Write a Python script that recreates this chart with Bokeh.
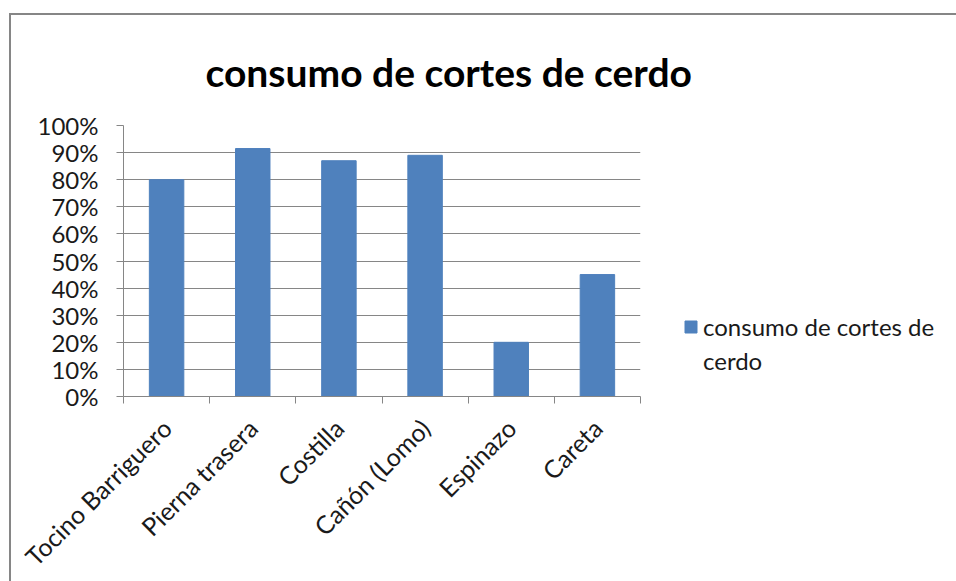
import math
from bokeh.plotting import figure
from bokeh.models import (ColumnDataSource, FixedTicker, Range1d, Legend, LegendItem,
                          NumeralTickFormatter)
from bokeh.embed import file_html
from bokeh.resources import INLINE

categories = ["Tocino Barriguero", "Pierna trasera", "Costilla", "Cañón (Lomo)", "Espinazo", "Careta"]
values = [0.80, 0.915, 0.87, 0.89, 0.20, 0.45]
series_label_lines = ["consumo de cortes de", "cerdo"]
title_text = "consumo de cortes de cerdo"
y_ticks = [0, 0.1, 0.2, 0.3, 0.4, 0.5, 0.6, 0.7, 0.8, 0.9, 1.0]

FONT = "Lato"
BAR = "#4F81BD"
GRID = "#868686"
TXT = "#1a1a1a"

# canvas origin inside the page (after margin + 2px border)
OX, OY = 11, 15

xs = [i + 0.5 for i in range(len(categories))]
src = ColumnDataSource(dict(x=xs, top=values, cat=categories))

p = figure(frame_width=517, frame_height=271, output_backend="svg", toolbar_location=None,
           x_range=Range1d(0, len(categories)), y_range=Range1d(0, 1.0),
           min_border_left=123 - OX, min_border_right=0, min_border_top=125 - OY,
           min_border_bottom=185 - 20)
p.margin = (OY - 2, 0, 0, OX - 2)
p.styles = {"border-top": "2px solid #868686", "border-left": "2px solid #868686",
            "box-sizing": "content-box"}
p.outline_line_color = None
p.background_fill_color = "white"
p.border_fill_color = "white"

r = p.vbar(x="x", top="top", width=0.4, bottom=0, source=src, fill_color=BAR, line_color=BAR)
r_blank = p.vbar(x=[], top=[], width=0.4, fill_alpha=0, line_alpha=0)

# title
p.title.text = title_text
p.title.text_font = FONT
p.title.text_font_style = "bold"
p.title.text_font_size = "39px"
p.title.text_color = "black"
p.title.align = "left"
p.title.offset = 82
p.title.standoff = 62

# y axis
p.yaxis.ticker = FixedTicker(ticks=y_ticks)
p.yaxis.formatter = NumeralTickFormatter(format="0%")
p.yaxis.axis_line_color = GRID
p.yaxis.major_tick_line_color = GRID
p.yaxis.major_tick_out = 7
p.yaxis.major_tick_in = 0
p.yaxis.minor_tick_line_color = None
p.yaxis.major_label_text_font = FONT
p.yaxis.major_label_text_font_size = "24px"
p.yaxis.major_label_text_color = TXT
p.yaxis.major_label_standoff = 18

# x axis: labels at centers, ticks at category boundaries
p.xaxis.ticker = FixedTicker(ticks=xs, minor_ticks=list(range(len(categories) + 1)))
p.xaxis.major_label_overrides = {x: c for x, c in zip(xs, categories)}
p.xaxis.major_tick_out = 0
p.xaxis.major_tick_in = 0
p.xaxis.minor_tick_out = 7
p.xaxis.minor_tick_in = 0
p.xaxis.minor_tick_line_color = GRID
p.xaxis.axis_line_color = GRID
p.xaxis.major_label_orientation = math.pi / 4
p.xaxis.major_label_text_font = FONT
p.xaxis.major_label_text_font_size = "25px"
p.xaxis.major_label_text_color = TXT
p.xaxis.major_label_standoff = 20

p.xgrid.grid_line_color = None
p.ygrid.ticker = FixedTicker(ticks=y_ticks)
p.ygrid.grid_line_color = GRID
p.ygrid.grid_line_width = 1

# legend in right panel
legend = Legend(items=[LegendItem(label=series_label_lines[0], renderers=[r]),
                       LegendItem(label=series_label_lines[1], renderers=[r_blank])],
                location=(43, 20), label_text_font=FONT, label_text_font_size="24px",
                label_text_color=TXT, glyph_width=15, glyph_height=15,
                border_line_color=None, background_fill_alpha=0, padding=0, margin=0,
                label_standoff=5, label_height=32, spacing=2)
p.add_layout(legend, "right")

open("out.html", "w").write(file_html(p, INLINE))
